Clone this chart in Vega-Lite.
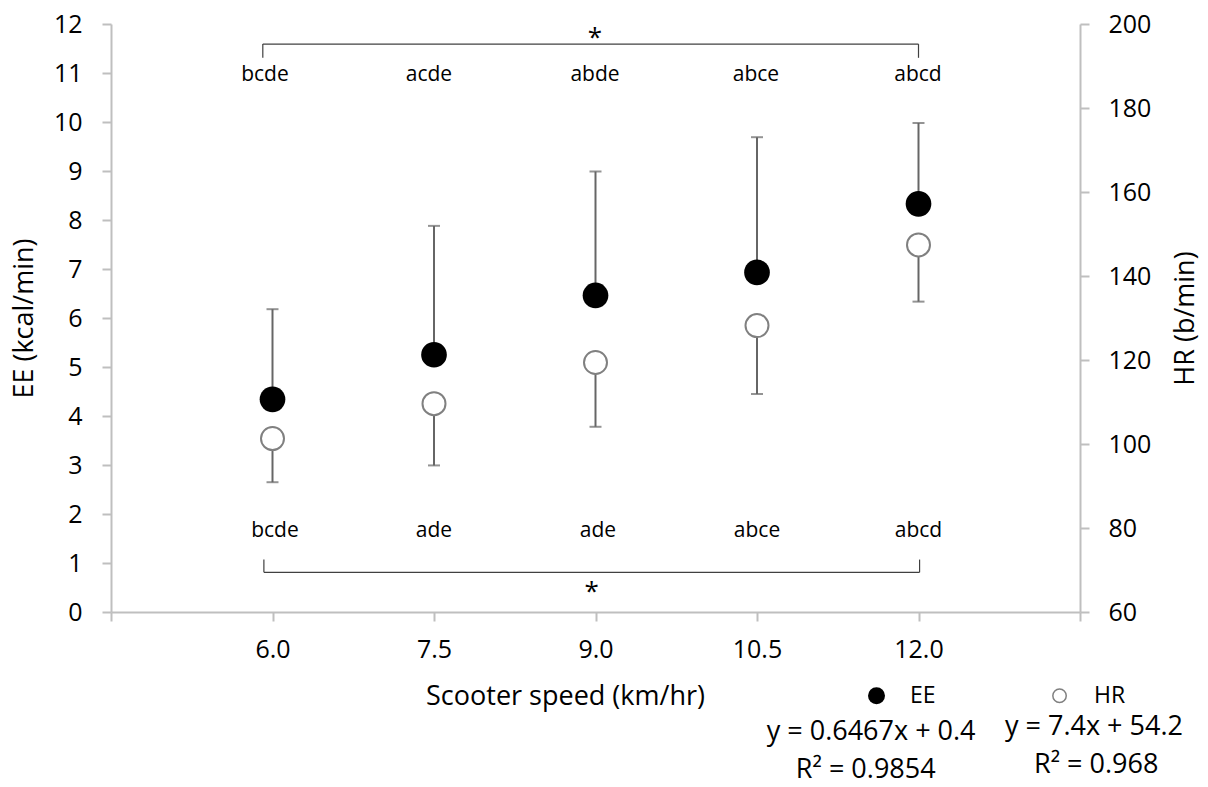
{
  "$schema": "https://vega.github.io/schema/vega-lite/v6.json",
  "width": 969,
  "height": 588,
  "autosize": {"type": "none"},
  "padding": {"left": 111, "top": 24, "right": 128, "bottom": 175},
  "config": {
    "view": {"stroke": null},
    "font": "Open Sans",
    "text": {"font": "Open Sans", "color": "#000000"},
    "axis": {
      "labelFont": "Open Sans",
      "titleFont": "Open Sans",
      "labelColor": "#000000",
      "titleColor": "#000000",
      "labelFontSize": 25,
      "titleFontSize": 27,
      "titleFontWeight": "normal",
      "domainColor": "#bfbfbf",
      "tickColor": "#bfbfbf",
      "domainWidth": 2,
      "tickWidth": 2,
      "tickSize": 9,
      "grid": false
    }
  },
  "datasets": {
    "main": [
      {"speed": 6.0, "ee": 4.34, "ee_hi": 6.18, "hr": 101.3, "hr_lo": 90.9},
      {"speed": 7.5, "ee": 5.25, "ee_hi": 7.88, "hr": 109.6, "hr_lo": 94.9},
      {"speed": 9.0, "ee": 6.46, "ee_hi": 8.99, "hr": 119.4, "hr_lo": 104.1},
      {"speed": 10.5, "ee": 6.93, "ee_hi": 9.69, "hr": 128.2, "hr_lo": 111.9},
      {"speed": 12.0, "ee": 8.33, "ee_hi": 9.98, "hr": 147.4, "hr_lo": 133.9}
    ],
    "brackets": [
      {"speed": 5.91, "x2": 12.0, "ee": 11.59, "y2": 11.59},
      {"speed": 5.91, "x2": 5.91, "ee": 11.31, "y2": 11.59},
      {"speed": 12.0, "x2": 12.0, "ee": 11.31, "y2": 11.59},
      {"speed": 5.92, "x2": 12.01, "ee": 0.81, "y2": 0.81},
      {"speed": 5.92, "x2": 5.92, "ee": 0.81, "y2": 1.07},
      {"speed": 12.01, "x2": 12.01, "ee": 0.81, "y2": 1.07}
    ],
    "letters": [
      {"speed": 5.93, "ee": 10.84, "label": "bcde"},
      {"speed": 7.453, "ee": 10.84, "label": "acde"},
      {"speed": 8.995, "ee": 10.84, "label": "abde"},
      {"speed": 10.49, "ee": 10.84, "label": "abce"},
      {"speed": 11.995, "ee": 10.84, "label": "abcd"},
      {"speed": 6.023, "ee": 1.537, "label": "bcde"},
      {"speed": 7.5, "ee": 1.537, "label": "ade"},
      {"speed": 9.023, "ee": 1.537, "label": "ade"},
      {"speed": 10.5, "ee": 1.537, "label": "abce"},
      {"speed": 12.0, "ee": 1.537, "label": "abcd"}
    ],
    "stars": [
      {"speed": 8.995, "ee": 11.55, "label": "*"},
      {"speed": 8.965, "ee": 0.25, "label": "*"}
    ],
    "legendsym": [
      {"speed": 11.61, "ee": -1.71, "series": "EE"},
      {"speed": 13.31, "ee": -1.71, "series": "HR"}
    ],
    "legendtext": [
      {"speed": 11.92, "ee": -1.86, "label": "EE"},
      {"speed": 13.63, "ee": -1.86, "label": "HR"}
    ],
    "equations": [
      {"speed": 11.56, "ee": -2.61, "label": "y = 0.6467x + 0.4"},
      {"speed": 11.51, "ee": -3.39, "label": "R² = 0.9854"},
      {"speed": 13.63, "ee": -2.52, "label": "y = 7.4x + 54.2"},
      {"speed": 13.65, "ee": -3.28, "label": "R² = 0.968"}
    ]
  },
  "layer": [
    {
      "encoding": {
        "x": {
          "field": "speed", "type": "quantitative",
          "scale": {"domain": [4.5, 13.5], "nice": false, "zero": false},
          "axis": {
            "values": [4.5, 6, 7.5, 9, 10.5, 12, 13.5],
            "labelExpr": "datum.value == 4.5 || datum.value == 13.5 ? '' : format(datum.value, '.1f')",
            "labelPadding": 16,
            "title": "Scooter speed (km/hr)",
            "titleX": 454,
            "titleY": 92,
            "titleAlign": "center",
            "titleBaseline": "alphabetic"
          }
        },
        "y": {
          "field": "ee", "type": "quantitative",
          "scale": {"domain": [0, 12], "nice": false, "zero": false},
          "axis": {
            "orient": "left",
            "values": [0, 1, 2, 3, 4, 5, 6, 7, 8, 9, 10, 11, 12],
            "labelPadding": 20,
            "title": "EE (kcal/min)",
            "titleAngle": 270,
            "titleX": -79,
            "titleY": 294,
            "titleAlign": "center",
            "titleBaseline": "alphabetic"
          }
        }
      },
      "layer": [
        {
          "data": {"name": "main"},
          "mark": {"type": "rule", "color": "#666666", "strokeWidth": 2},
          "encoding": {"y2": {"field": "ee_hi"}}
        },
        {
          "data": {"name": "main"},
          "mark": {"type": "tick", "orient": "horizontal", "color": "#666666", "size": 12, "thickness": 2},
          "encoding": {"y": {"field": "ee_hi", "type": "quantitative"}}
        },
        {
          "data": {"name": "main"},
          "mark": {"type": "point", "shape": "circle", "filled": true, "color": "#000000", "size": 660, "opacity": 1}
        },
        {
          "data": {"name": "brackets"},
          "mark": {"type": "rule", "color": "#404040", "strokeWidth": 1.2, "clip": false},
          "encoding": {"x2": {"field": "x2"}, "y2": {"field": "y2"}}
        },
        {
          "data": {"name": "letters"},
          "mark": {"type": "text", "fontSize": 21, "align": "center", "baseline": "alphabetic", "clip": false},
          "encoding": {"text": {"field": "label"}}
        },
        {
          "data": {"name": "stars"},
          "mark": {"type": "text", "fontSize": 26, "align": "center", "baseline": "alphabetic", "clip": false},
          "encoding": {"text": {"field": "label"}}
        },
        {
          "data": {"name": "legendsym"},
          "transform": [{"filter": "datum.series == 'EE'"}],
          "mark": {"type": "point", "shape": "circle", "filled": true, "color": "#000000", "size": 289, "opacity": 1, "clip": false}
        },
        {
          "data": {"name": "legendsym"},
          "transform": [{"filter": "datum.series == 'HR'"}],
          "mark": {"type": "point", "shape": "circle", "filled": false, "fill": "#ffffff", "stroke": "#808080", "strokeWidth": 1.5, "size": 180, "opacity": 1, "clip": false}
        },
        {
          "data": {"name": "legendtext"},
          "mark": {"type": "text", "fontSize": 23, "align": "left", "baseline": "alphabetic", "clip": false},
          "encoding": {"text": {"field": "label"}}
        },
        {
          "data": {"name": "equations"},
          "mark": {"type": "text", "fontSize": 27, "align": "center", "baseline": "alphabetic", "clip": false},
          "encoding": {"text": {"field": "label"}}
        }
      ]
    },
    {
      "data": {"name": "main"},
      "encoding": {
        "x": {"field": "speed", "type": "quantitative"},
        "y": {
          "field": "hr", "type": "quantitative",
          "scale": {"domain": [60, 200], "nice": false, "zero": false},
          "axis": {
            "orient": "right",
            "values": [60, 80, 100, 120, 140, 160, 180, 200],
            "labelPadding": 19,
            "title": "HR (b/min)",
            "titleAngle": 270,
            "titleX": 113,
            "titleY": 294,
            "titleAlign": "center",
            "titleBaseline": "alphabetic"
          }
        }
      },
      "layer": [
        {
          "mark": {"type": "rule", "color": "#666666", "strokeWidth": 2},
          "encoding": {"y2": {"field": "hr_lo"}}
        },
        {
          "mark": {"type": "tick", "orient": "horizontal", "color": "#666666", "size": 12, "thickness": 2},
          "encoding": {"y": {"field": "hr_lo", "type": "quantitative"}}
        },
        {
          "mark": {"type": "point", "shape": "circle", "filled": false, "fill": "#ffffff", "stroke": "#808080", "strokeWidth": 2, "size": 529, "opacity": 1}
        }
      ]
    }
  ],
  "resolve": {"scale": {"y": "independent"}}
}
